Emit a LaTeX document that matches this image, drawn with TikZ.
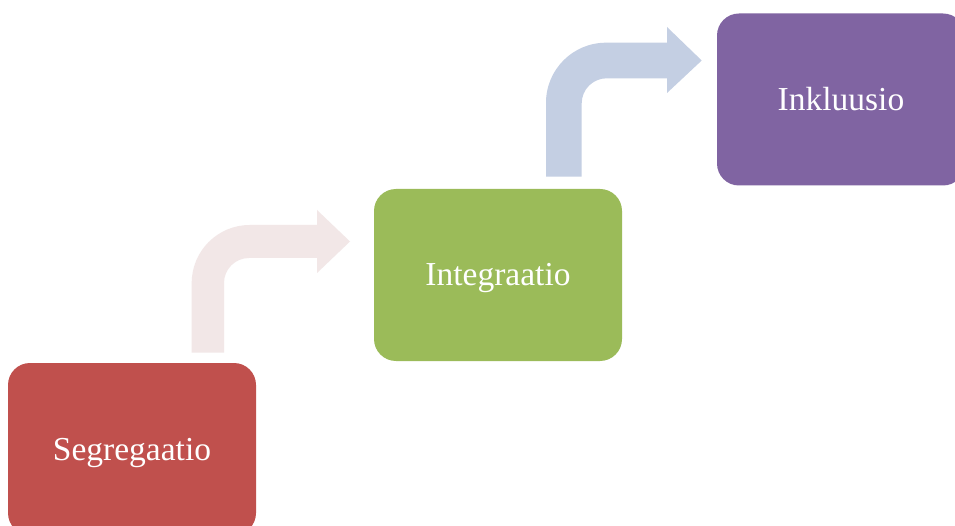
\documentclass[tikz,border=0pt]{standalone}
\usepackage{fontspec}
\setmainfont{Liberation Serif}
\definecolor{cred}{HTML}{C0504D}
\definecolor{cgreen}{HTML}{9BBB59}
\definecolor{cpurple}{HTML}{8064A2}
\definecolor{cpink}{HTML}{F2E7E7}
\definecolor{cblue}{HTML}{C4CFE3}
\begin{document}
\begin{tikzpicture}[x=1pt,y=-1pt,
  stage/.style={rounded corners=22pt, minimum width=248pt, minimum height=172pt,
    inner sep=0pt, text=white, text height=24pt, text depth=2pt,
    font=\fontsize{33.5}{40}\selectfont}]
\useasboundingbox (0,0) rectangle (955,526);
\clip (0,0) rectangle (955,526);
\fill[white] (0,0) rectangle (955,526);
% bent arrows
\fill[cpink] (191.7,352.7) -- (191.7,283)
  .. controls (191.7,251) and (217.7,225) .. (249.7,225)
  -- (317,225) -- (317,210) -- (350,241.5) -- (317,273) -- (317,258)
  -- (249,258) .. controls (235.2,258) and (224,269.2) .. (224,283)
  -- (224,352.7) -- cycle;
\fill[cblue] (546,176.7) -- (546,102.7)
  .. controls (546,69.6) and (572.9,42.7) .. (606,42.7)
  -- (667,42.7) -- (667,27) -- (701.7,60.5) -- (667,93) -- (667,78.3)
  -- (606.7,78.3) .. controls (592.9,78.3) and (581.7,89.5) .. (581.7,103.3)
  -- (581.7,176.7) -- cycle;
% stages
\node[stage, fill=cred] (seg) at (132,449) {Segregaatio};
\node[stage, fill=cgreen] (int) at (498,275) {Integraatio};
\node[stage, fill=cpurple] (ink) at (841,99.5) {Inkluusio};
\end{tikzpicture}
\end{document}
